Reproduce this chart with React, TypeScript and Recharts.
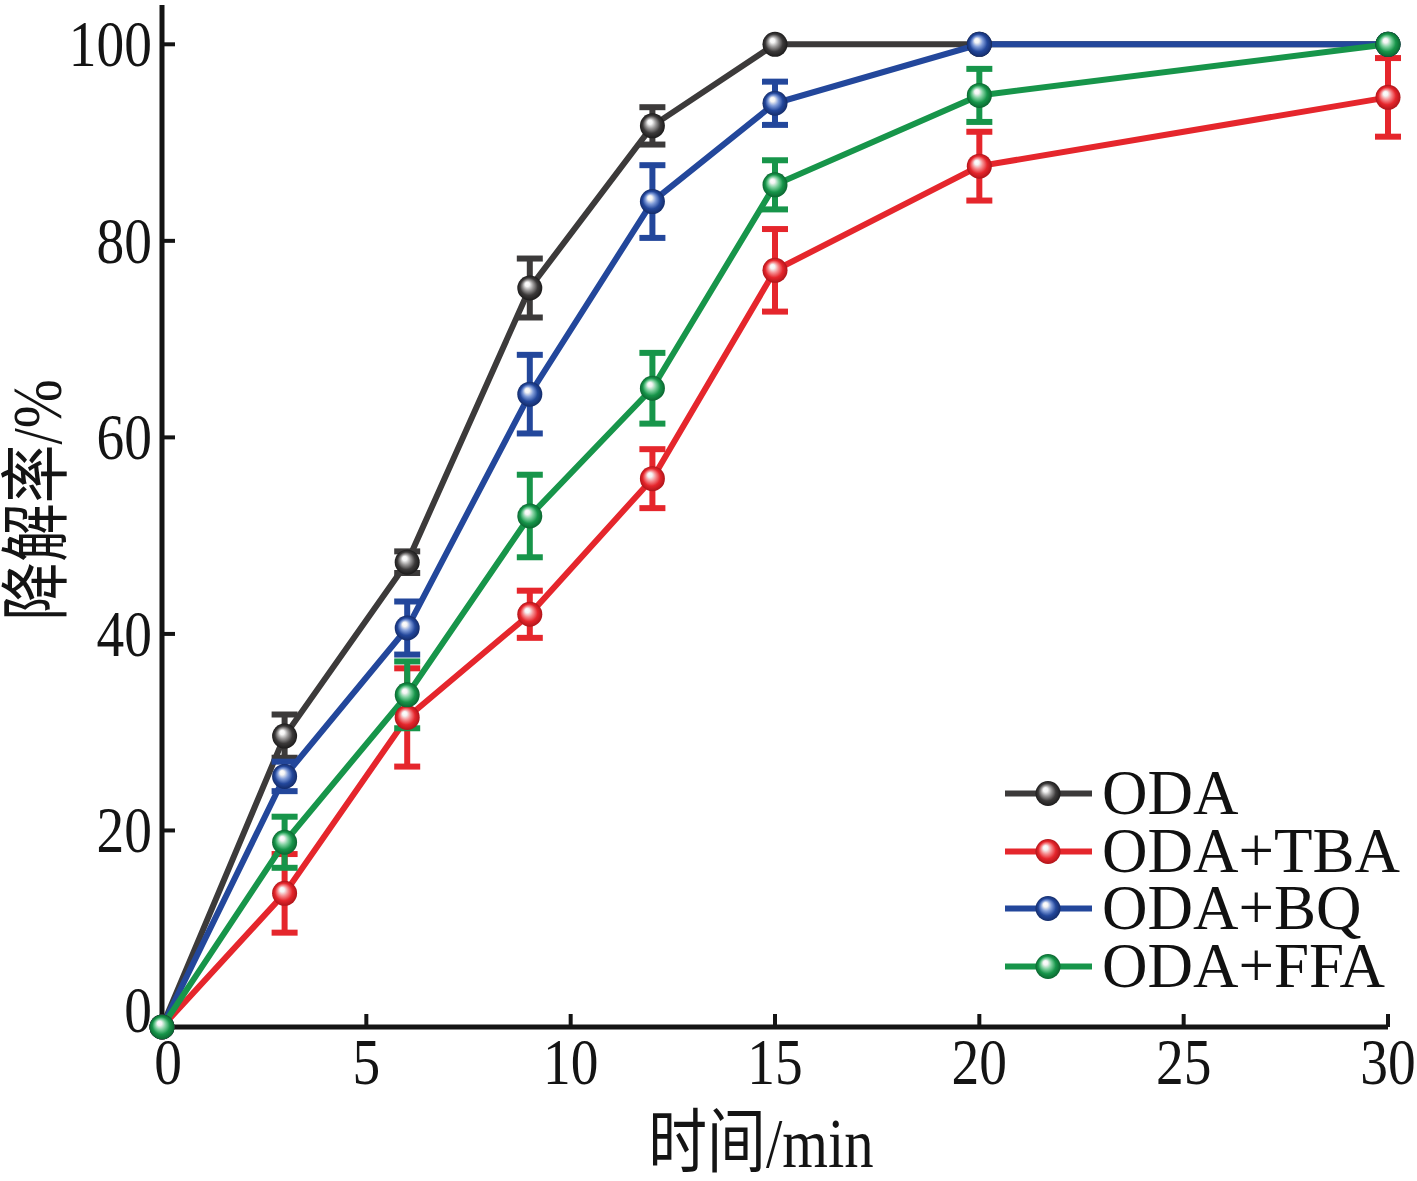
import React from 'react';
import { LineChart, Line, XAxis, YAxis, ErrorBar, Legend } from 'recharts';

// ---- data ----
const times = [0, 3, 6, 9, 12, 15, 20, 30];
const xTicks = [0, 5, 10, 15, 20, 25, 30];
const yTicks = [0, 20, 40, 60, 80, 100];

const seriesNames = ['ODA', 'ODA+TBA', 'ODA+BQ', 'ODA+FFA'];

const odaValues = [0, 29.6, 47.3, 75.2, 91.7, 100, 100, 100];
const odaErrors = [0, 2.2, 1.1, 3.0, 1.9, 0, 0, 0];

const tbaValues = [0, 13.6, 31.5, 42.0, 55.8, 77.0, 87.6, 94.6];
const tbaErrors = [0, 4.0, 5.0, 2.4, 3.0, 4.2, 3.5, 4.0];

const bqValues = [0, 25.5, 40.6, 64.4, 84.0, 94.0, 100, 100];
const bqErrors = [0, 1.5, 2.7, 4.0, 3.7, 2.2, 0, 0];

const ffaValues = [0, 18.8, 33.8, 52.0, 65.0, 85.7, 94.8, 100];
const ffaErrors = [0, 2.6, 3.4, 4.2, 3.6, 2.5, 2.7, 0];

const xTitle = '时间/min';
const yTitle = '降解率/%';

// ---- table built from the arrays ----
const rows = times.map((t, i) => ({
  t,
  oda: odaValues[i],
  odaErr: odaErrors[i],
  tba: tbaValues[i],
  tbaErr: tbaErrors[i],
  bq: bqValues[i],
  bqErr: bqErrors[i],
  ffa: ffaValues[i],
  ffaErr: ffaErrors[i],
}));

const COLORS = {
  oda: { base: '#3c3a3a', light: '#9a9898', dark: '#1c1b1b' },
  tba: { base: '#e5262c', light: '#f58c8f', dark: '#b01419' },
  bq: { base: '#23479b', light: '#7f9bd8', dark: '#142c6a' },
  ffa: { base: '#17954a', light: '#7fd09f', dark: '#0b6630' },
};

const SERIF = "'Liberation Serif', 'Times New Roman', 'Noto Sans CJK SC', serif";
const AXIS = '#141414';

const makeDot = (key: string) => (props: any) => {
  const { cx, cy, index } = props;
  if (cx == null || cy == null) return <g key={`${key}-${index}`} />;
  return <circle key={`${key}-${index}`} cx={cx} cy={cy} r={12.5} fill={`url(#sphere-${key})`} />;
};

const XTick = (props: any) => {
  const { x, y, payload } = props;
  const v = payload.value;
  return (
    <g>
      {v !== 0 && <line x1={x} x2={x} y1={y} y2={y - 13} stroke={AXIS} strokeWidth={4} />}
      <text
        transform={`translate(${x + (v === 0 ? 6 : 0)},${y + 57}) scale(0.84,1)`}
        textAnchor="middle"
        fontSize={66}
        fontFamily={SERIF}
        fill={AXIS}
      >
        {v}
      </text>
    </g>
  );
};

const YTick = (props: any) => {
  const { x, y, payload } = props;
  const v = payload.value;
  return (
    <g>
      {v !== 0 && <line x1={x} x2={x + 13} y1={y} y2={y} stroke={AXIS} strokeWidth={4} />}
      <text
        transform={`translate(${x - 10},${y + 22 - (v === 0 ? 17 : 0)}) scale(0.84,1)`}
        textAnchor="end"
        fontSize={66}
        fontFamily={SERIF}
        fill={AXIS}
      >
        {v}
      </text>
    </g>
  );
};

const LegendContent = (props: any) => {
  const payload = [...(props.payload || [])].sort(
    (a: any, b: any) => seriesNames.indexOf(a.value) - seriesNames.indexOf(b.value)
  );
  return (
    <div style={{ display: 'flex', flexDirection: 'column' }}>
      {payload.map((entry: any) => {
        const key = entry.dataKey as string;
        return (
          <div key={key} style={{ display: 'flex', alignItems: 'center', height: 57.5 }}>
            <svg width={97} height={57} style={{ display: 'block' }}>
              <line x1={0} x2={87} y1={28.5} y2={28.5} stroke={entry.color} strokeWidth={6} />
              <circle cx={43} cy={28.5} r={12.5} fill={`url(#sphere-${key})`} />
            </svg>
            <span
              style={{
                fontFamily: SERIF,
                fontSize: 63,
                lineHeight: '57px',
                color: '#111',
                whiteSpace: 'nowrap',
              }}
            >
              {entry.value}
            </span>
          </div>
        );
      })}
    </div>
  );
};

const seriesKeys = ['oda', 'tba', 'bq', 'ffa'] as const;

export default function App() {
  return (
    <div style={{ position: 'absolute', left: 0, top: 0, width: 1417, height: 1181, background: '#fff' }}>
      <LineChart width={1417} height={1181} data={rows} margin={{ top: 5, right: 29, left: 0, bottom: 0 }}>
        <defs>
          {seriesKeys.map((k) => (
            <radialGradient key={k} id={`sphere-${k}`} cx="0.5" cy="0.5" r="0.5" fx="0.38" fy="0.32">
              <stop offset="0" stopColor="#ffffff" />
              <stop offset="0.18" stopColor="#f4f4f4" />
              <stop offset="0.42" stopColor={COLORS[k].light} />
              <stop offset="0.7" stopColor={COLORS[k].base} />
              <stop offset="1" stopColor={COLORS[k].dark} />
            </radialGradient>
          ))}
        </defs>
        <XAxis
          dataKey="t"
          type="number"
          domain={[0, 30]}
          ticks={xTicks}
          height={154}
          tickSize={0}
          tickMargin={0}
          tickLine={false}
          axisLine={{ stroke: AXIS, strokeWidth: 5 }}
          tick={<XTick />}
          interval={0}
          label={{
            content: (p: any) => {
              const vb = p.viewBox || { x: 162, y: 1027, width: 1226, height: 154 };
              const cx = vb.x + vb.width / 2 - 14;
              return (
                <text
                  transform={`translate(${cx},${vb.y + vb.height - 14}) scale(0.84,1)`}
                  textAnchor="middle"
                  fontSize={70}
                  fontFamily={SERIF}
                  fill={AXIS}
                >
                  {xTitle}
                </text>
              );
            },
          }}
        />
        <YAxis
          type="number"
          domain={[0, 104]}
          ticks={yTicks}
          width={162}
          tickSize={0}
          tickMargin={0}
          tickLine={false}
          axisLine={{ stroke: AXIS, strokeWidth: 5 }}
          tick={<YTick />}
          interval={0}
          label={{
            content: () => (
              <text
                transform="translate(37,500) rotate(-90) scale(0.84,1)"
                textAnchor="middle"
                dominantBaseline="central"
                fontSize={70}
                fontFamily={SERIF}
                fill={AXIS}
              >
                {yTitle}
              </text>
            ),
          }}
        />
        <Legend
          layout="vertical"
          align="center"
          verticalAlign="middle"
          wrapperStyle={{ left: 1005, top: 765, width: 410, height: 'auto' }}
          content={<LegendContent />}
        />
        {seriesKeys.map((k, i) => (
          <Line
            key={k}
            type="linear"
            dataKey={k}
            name={seriesNames[i]}
            stroke={COLORS[k].base}
            strokeWidth={6}
            dot={makeDot(k)}
            activeDot={false}
            isAnimationActive={false}
          >
            <ErrorBar
              dataKey={`${k}Err`}
              direction="y"
              width={13}
              strokeWidth={6}
              stroke={COLORS[k].base}
              isAnimationActive={false}
            />
          </Line>
        ))}
      </LineChart>
    </div>
  );
}
